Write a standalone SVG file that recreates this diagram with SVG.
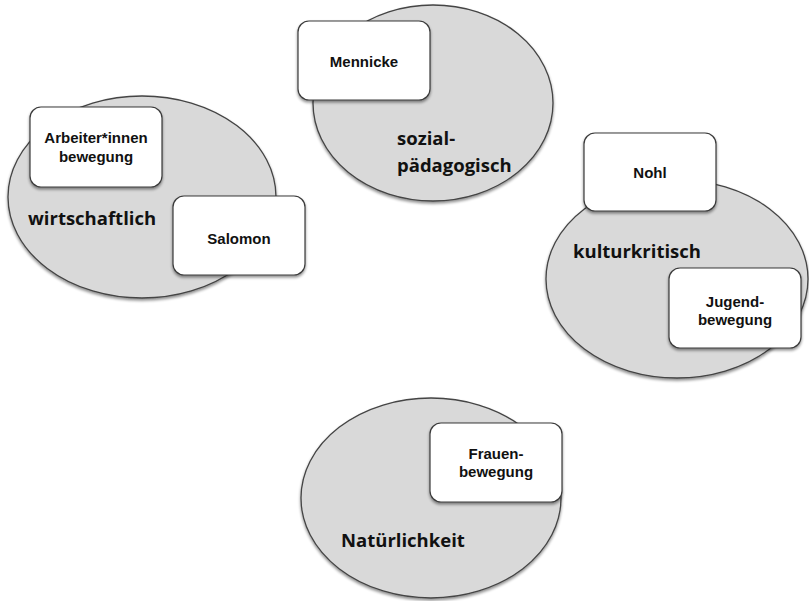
<svg xmlns="http://www.w3.org/2000/svg" width="809" height="601" viewBox="0 0 809 601">
  <defs>
    <filter id="shadow" x="-10%" y="-10%" width="125%" height="130%">
      <feGaussianBlur in="SourceAlpha" stdDeviation="1.5"/>
      <feOffset dx="0" dy="2" result="off"/>
      <feComponentTransfer><feFuncA type="linear" slope="0.45"/></feComponentTransfer>
      <feMerge><feMergeNode/><feMergeNode in="SourceGraphic"/></feMerge>
    </filter>
  </defs>
  <style>
    .area { fill: #d9d9d9; stroke: #444444; stroke-width: 1.3; filter: url(#shadow); }
    .box { fill: #ffffff; stroke: #3a3a3a; stroke-width: 1.2; filter: url(#shadow); }
    .title { font-family: "Open Sans", "Noto Sans", sans-serif; font-weight: bold; font-size: 18.5px; fill: #111; }
    .name { font-family: "Liberation Sans", Arial, sans-serif; font-weight: bold; font-size: 15px; fill: #111; text-anchor: middle; }
  </style>
  <rect width="809" height="601" fill="#ffffff"/>

  <g id="connectors"/>

  <!-- economic -->
  <g id="wirtschaftlich">
    <ellipse class="area" cx="142" cy="197" rx="134" ry="101"/>
    <text class="title" x="28" y="225">wirtschaftlich</text>
  </g>
  <g id="arbeiterinnenbewegung">
    <rect class="box" x="30" y="107" width="132" height="80" rx="11"/>
    <text class="name" x="96" y="143">Arbeiter*innen</text>
    <text class="name" x="96" y="162">bewegung</text>
  </g>
  <g id="salomon">
    <rect class="box" x="173" y="196" width="132" height="79" rx="11"/>
    <text class="name" x="239" y="244">Salomon</text>
  </g>

  <!-- social-pedagogical -->
  <g id="sozialpaedagogisch">
    <ellipse class="area" cx="433" cy="103" rx="120" ry="98"/>
    <text class="title" x="397" y="145">sozial-</text>
    <text class="title" x="397" y="172">pädagogisch</text>
  </g>
  <g id="mennicke">
    <rect class="box" x="298" y="21" width="132" height="79" rx="11"/>
    <text class="name" x="364" y="67">Mennicke</text>
  </g>

  <!-- cultural-critical -->
  <g id="kulturkritisch">
    <ellipse class="area" cx="677" cy="279" rx="131" ry="99"/>
    <text class="title" x="573" y="258">kulturkritisch</text>
  </g>
  <g id="nohl">
    <rect class="box" x="584" y="133" width="132" height="78" rx="11"/>
    <text class="name" x="650" y="178">Nohl</text>
  </g>
  <g id="jugendbewegung">
    <rect class="box" x="669" y="268" width="132" height="80" rx="11"/>
    <text class="name" x="735" y="307">Jugend-</text>
    <text class="name" x="735" y="325">bewegung</text>
  </g>

  <!-- naturalness -->
  <g id="natuerlichkeit">
    <ellipse class="area" cx="431" cy="498" rx="130" ry="100"/>
    <text class="title" x="341" y="547">Natürlichkeit</text>
  </g>
  <g id="frauenbewegung">
    <rect class="box" x="430" y="423" width="132" height="79" rx="11"/>
    <text class="name" x="496" y="459">Frauen-</text>
    <text class="name" x="496" y="477">bewegung</text>
  </g>
</svg>
